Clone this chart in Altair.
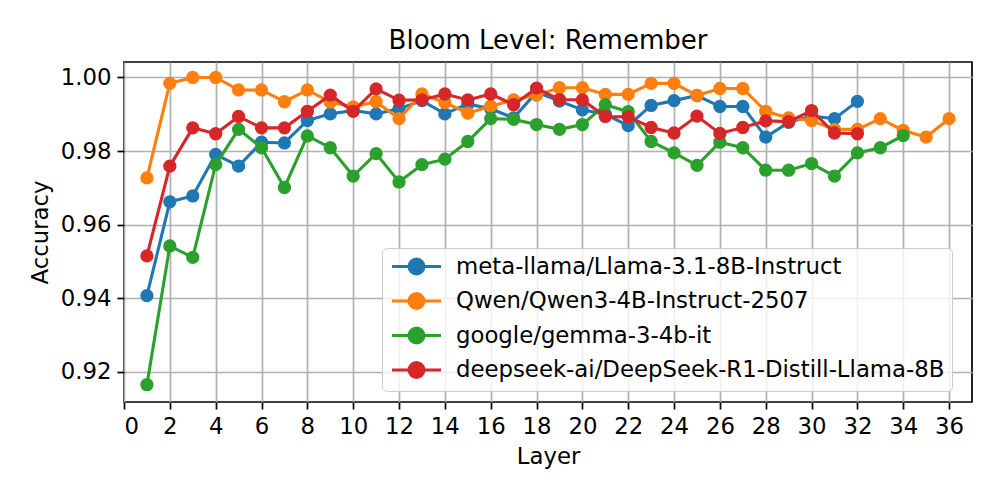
import altair as alt
import pandas as pd

models = [
    "meta-llama/Llama-3.1-8B-Instruct",
    "Qwen/Qwen3-4B-Instruct-2507",
    "google/gemma-3-4b-it",
    "deepseek-ai/DeepSeek-R1-Distill-Llama-8B",
]
colors = ["#1f77b4", "#ff7f0e", "#2ca02c", "#d62728"]

llama = [0.9407, 0.9662, 0.9678, 0.9791, 0.9759, 0.9824, 0.9822, 0.9883,
         0.9901, 0.9910, 0.9901, 0.9915, 0.9937, 0.9901, 0.9928, 0.9915,
         0.9890, 0.9960, 0.9936, 0.9912, 0.9900, 0.9869, 0.9924, 0.9937,
         0.9951, 0.9921, 0.9921, 0.9838, 0.9878, 0.9895, 0.9888, 0.9935]
qwen = [0.9727, 0.9984, 1.0000, 1.0000, 0.9966, 0.9966, 0.9934, 0.9966,
        0.9933, 0.9920, 0.9934, 0.9888, 0.9955, 0.9932, 0.9903, 0.9922,
        0.9939, 0.9952, 0.9972, 0.9972, 0.9954, 0.9954, 0.9984, 0.9984,
        0.9951, 0.9970, 0.9970, 0.9908, 0.9890, 0.9883, 0.9859, 0.9859,
        0.9888, 0.9856, 0.9838, 0.9888]
gemma = [0.9165, 0.9542, 0.9511, 0.9763, 0.9859, 0.9809, 0.9701, 0.9841,
         0.9809, 0.9732, 0.9793, 0.9716, 0.9763, 0.9778, 0.9826, 0.9888,
         0.9886, 0.9872, 0.9859, 0.9872, 0.9926, 0.9907, 0.9826, 0.9795,
         0.9761, 0.9824, 0.9809, 0.9748, 0.9748, 0.9766, 0.9732, 0.9795,
         0.9809, 0.9842]
deepseek = [0.9515, 0.9759, 0.9863, 0.9847, 0.9894, 0.9863, 0.9863, 0.9908,
            0.9952, 0.9908, 0.9969, 0.9938, 0.9939, 0.9955, 0.9939, 0.9955,
            0.9926, 0.9971, 0.9940, 0.9939, 0.9894, 0.9893, 0.9864, 0.9849,
            0.9895, 0.9848, 0.9864, 0.9882, 0.9880, 0.9910, 0.9849, 0.9847]

x_ticks = list(range(0, 37, 2))
y_ticks = [0.92, 0.94, 0.96, 0.98, 1.00]

series = [llama, qwen, gemma, deepseek]
rows = []
for m, vals in zip(models, series):
    for i, v in enumerate(vals):
        rows.append({"Layer": i + 1, "Accuracy": v, "Model": m})
df = pd.DataFrame(rows)

FONT = "DejaVu Sans"
FS = 22.8


def circ(r):
    return f"M{-r},0A{r},{r} 0 1,0 {r},0A{r},{r} 0 1,0 {-r},0"


# legend glyph: a line with a filled dot (unit = 10px at symbolSize 400)
sym_path = "M-2.45,0L2.45,0" + "".join(circ(r) for r in [0.75, 0.6, 0.45, 0.3, 0.15])

color = alt.Color(
    "Model:N",
    scale=alt.Scale(domain=models, range=colors),
    sort=models,
    legend=alt.Legend(
        title=None,
        orient="none",
        legendX=258,
        legendY=186,
        symbolType=sym_path,
        symbolSize=400,
        symbolStrokeWidth=3,
        symbolOffset=16,
        labelFontSize=FS,
        labelFont=FONT,
        labelColor="black",
        fillColor="rgba(255,255,255,0.8)",
        strokeColor="#cccccc",
        cornerRadius=5,
        padding=7,
        rowPadding=7.5,
        labelOffset=28,
        labelLimit=1000,
    ),
)

x = alt.X(
    "Layer:Q",
    scale=alt.Scale(domain=[0, 37], nice=False, zero=False),
    axis=alt.Axis(values=x_ticks, title="Layer"),
)
y = alt.Y(
    "Accuracy:Q",
    scale=alt.Scale(domain=[0.9118, 1.0042], nice=False, zero=False),
    axis=alt.Axis(values=y_ticks, format=".2f", title="Accuracy"),
)

layers = []
for m in models:
    base = alt.Chart(df).transform_filter(alt.datum.Model == m).encode(x=x, y=y, color=color)
    layers.append(base.mark_line(strokeWidth=3.1))
    layers.append(base.mark_point(filled=True, size=177, opacity=1, shape="circle"))

chart = (
    alt.layer(*layers)
    .properties(
        width=848,
        height=340,
        autosize=alt.AutoSizeParams(type="none"),
        padding={"left": 116, "top": 54, "right": 16, "bottom": 88},
        title=alt.TitleParams(
            "Bloom Level: Remember", fontSize=26, font=FONT, fontWeight="normal",
            color="black", offset=8,
        ),
    )
    .configure_view(stroke="black", strokeWidth=1.7)
    .configure_axis(
        domain=False,
        grid=True,
        gridColor="#b0b0b0",
        gridWidth=1.7,
        tickColor="black",
        tickWidth=1.7,
        tickSize=7,
        labelFont=FONT,
        labelFontSize=FS,
        labelColor="black",
        labelPadding=6,
        titleFont=FONT,
        titleFontSize=FS,
        titleFontWeight="normal",
        titleColor="black",
        titlePadding=8,
    )
)

chart.save("out.html", embed_options={"renderer": "svg", "actions": False})
